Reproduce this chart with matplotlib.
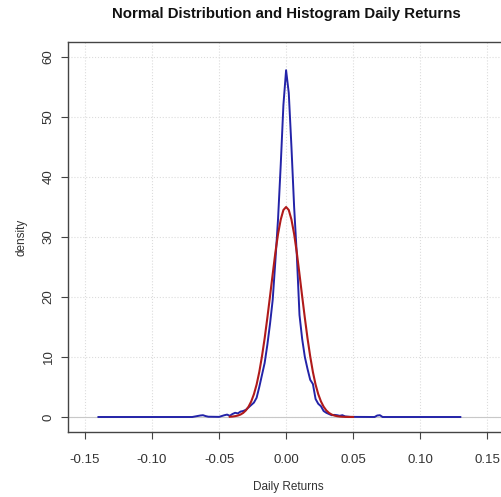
import matplotlib
matplotlib.use("Agg")
import matplotlib.pyplot as plt

plt.rcParams['font.family'] = ['Liberation Sans', 'DejaVu Sans']

# kernel density of daily returns (blue)
dens_x = [-0.140, -0.070, -0.064, -0.062, -0.060, -0.058, -0.050, -0.046, -0.044,
          -0.042, -0.040, -0.038, -0.036, -0.034, -0.032, -0.030, -0.028, -0.026,
          -0.024, -0.022, -0.020, -0.018, -0.016, -0.014, -0.012, -0.010, -0.008,
          -0.006, -0.004, -0.002, 0.000, 0.002, 0.004, 0.006, 0.008, 0.010, 0.012,
          0.014, 0.016, 0.018, 0.020, 0.022, 0.024, 0.026, 0.028, 0.030, 0.032,
          0.034, 0.036, 0.038, 0.040, 0.042, 0.044, 0.048, 0.066, 0.068, 0.070,
          0.072, 0.130]
dens_y = [0.0, 0.0, 0.25, 0.3, 0.15, 0.05, 0.02, 0.3, 0.4,
          0.2, 0.5, 0.7, 0.6, 0.9, 1.0, 1.2, 1.6, 2.0,
          2.4, 3.2, 5.0, 7.0, 9.0, 12.0, 15.5, 19.5, 26.0,
          33.0, 42.0, 52.0, 57.8, 54.0, 45.0, 35.0, 27.0, 17.0, 13.0,
          10.0, 8.0, 6.2, 5.5, 3.0, 2.2, 1.8, 1.0, 0.7, 0.5,
          0.3, 0.35, 0.3, 0.2, 0.3, 0.1, 0.02, 0.0, 0.25, 0.3,
          0.0, 0.0]

# fitted normal curve (red)
norm_x = [-0.042, -0.040, -0.038, -0.036, -0.034, -0.032, -0.030, -0.028, -0.026,
          -0.024, -0.022, -0.020, -0.018, -0.016, -0.014, -0.012, -0.010, -0.008,
          -0.006, -0.004, -0.002, 0.000, 0.002, 0.004, 0.006, 0.008, 0.010, 0.012,
          0.014, 0.016, 0.018, 0.020, 0.022, 0.024, 0.026, 0.028, 0.030, 0.032,
          0.034, 0.036, 0.038, 0.040, 0.042, 0.044, 0.046, 0.048, 0.050]
norm_y = [0.04, 0.075, 0.14, 0.24, 0.41, 0.68, 1.10, 1.72, 2.6,
          3.8, 5.4, 7.5, 10.1, 13.1, 16.5, 20.1, 23.8, 27.4,
          30.5, 32.9, 34.5, 35.0, 34.5, 32.9, 30.5, 27.4, 23.8, 20.1,
          16.5, 13.1, 10.1, 7.5, 5.4, 3.8, 2.6, 1.72, 1.10, 0.68,
          0.41, 0.24, 0.14, 0.075, 0.04, 0.02, 0.01, 0.005, 0.002]

x_ticks = [-0.15, -0.10, -0.05, 0.00, 0.05, 0.10, 0.15]
y_ticks = [0, 10, 20, 30, 40, 50, 60]

fig = plt.figure(figsize=(5.01, 4.97), dpi=100)
ax = fig.add_axes([68 / 501, 1 - 432 / 497, 441 / 501, 390 / 497])

ax.grid(True, color='#dcdcdc', linestyle=':', linewidth=0.8)
ax.axhline(0, color='#c8c8c8', linewidth=0.8)
ax.plot(dens_x, dens_y, color='#2323a8', linewidth=1.4)
ax.plot(norm_x, norm_y, color='#b01a1a', linewidth=1.5)

ax.set_xlim(-0.1627, 0.1663)
ax.set_ylim(-2.5, 62.5)
ax.set_xticks(x_ticks)
ax.set_xticklabels(['%.2f' % v for v in x_ticks])
ax.set_yticks(y_ticks)
ax.set_yticklabels([str(v) for v in y_ticks], rotation=90, va='center')
ax.tick_params(length=5, width=0.8, color='#444444', labelsize=9.5,
               labelcolor='#333333')
ax.tick_params(axis='x', pad=11)
ax.tick_params(axis='y', pad=4.5)
for s in ax.spines.values():
    s.set_color('#444444')
    s.set_linewidth(1.0)

ax.set_xlabel('Daily Returns', fontsize=8.5, color='#333333', labelpad=10.5)
ax.set_ylabel('density', fontsize=8.5, color='#333333', labelpad=11)
fig.text(286 / 501, 1 - 14 / 497, 'Normal Distribution and Histogram Daily Returns',
         ha='center', va='center', fontsize=10.8, fontweight='bold', color='#111111')

fig.savefig('out.png', dpi=100)
